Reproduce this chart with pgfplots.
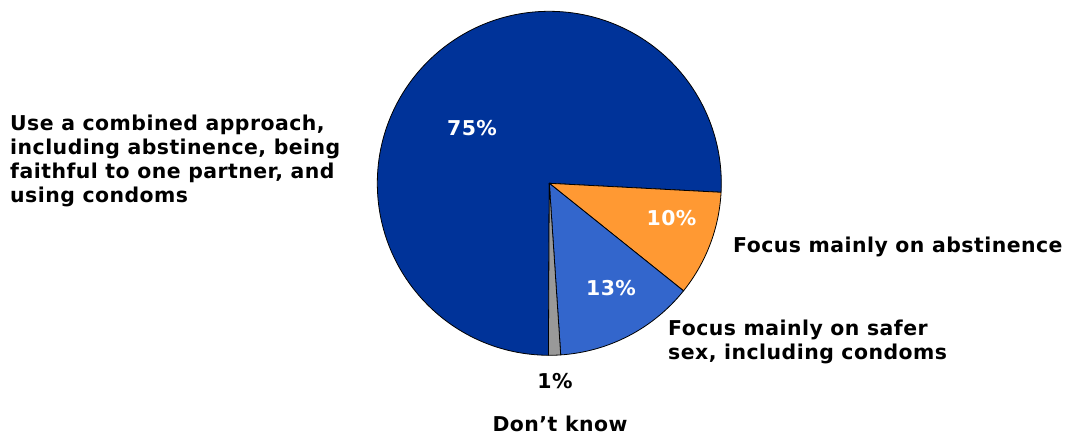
\documentclass[border=0pt]{standalone}
\usepackage{pgfplots}
\pgfplotsset{compat=1.18}
\usepackage{fontspec}
\setmainfont{DejaVu Sans}[BoldFont={DejaVu Sans Bold}, LetterSpace=2.3]
\definecolor{darkblue}{HTML}{003399}
\definecolor{lightblue}{HTML}{3366CC}
\definecolor{orangeS}{HTML}{FF9933}
\definecolor{grayS}{HTML}{999999}
\begin{document}
\begin{tikzpicture}
\begin{axis}[
  width=1071bp, height=437bp, scale only axis,
  xmin=0, xmax=1071, ymin=0, ymax=437,
  hide axis, clip=false,
]
\path (axis cs:0,0) rectangle (axis cs:1071,437);
% slices (angles in degrees, clockwise from -3.0):
% 10% orange, 13% light blue, 1% grey, 75% dark blue
\filldraw[fill=darkblue, draw=black, line width=0.8pt, line join=round]
  (axis cs:549.3,253.7) -- ++(-90.3:172bp) arc[start angle=-90.3, end angle=-363.0, radius=172bp] -- cycle;
\filldraw[fill=orangeS, draw=black, line width=0.8pt, line join=round]
  (axis cs:549.3,253.7) -- ++(-3.0:172bp) arc[start angle=-3.0, end angle=-38.7, radius=172bp] -- cycle;
\filldraw[fill=lightblue, draw=black, line width=0.8pt, line join=round]
  (axis cs:549.3,253.7) -- ++(-38.7:172bp) arc[start angle=-38.7, end angle=-86.2, radius=172bp] -- cycle;
\filldraw[fill=grayS, draw=black, line width=0.8pt, line join=round]
  (axis cs:549.3,253.7) -- ++(-86.2:172bp) arc[start angle=-86.2, end angle=-90.3, radius=172bp] -- cycle;
\begin{scope}[font=\fontsize{20.5}{24}\selectfont\bfseries, inner sep=0pt]
\node[white] at (axis cs:472,309) {75\%};
\node[white] at (axis cs:671.5,218.5) {10\%};
\node[white] at (axis cs:611,149) {13\%};
\node[black, anchor=base] at (axis cs:555,48) {1\%};
\node[black, anchor=base] at (axis cs:560,6) {Don’t know};
\node[black, anchor=base west] at (axis cs:733,184.7) {Focus mainly on abstinence};
\node[black, anchor=base west] at (axis cs:668,101) {Focus mainly on safer};
\node[black, anchor=base west] at (axis cs:668,77) {sex, including condoms};
\node[black, anchor=base west] at (axis cs:10,306) {Use a combined approach,};
\node[black, anchor=base west] at (axis cs:10,282) {including abstinence, being};
\node[black, anchor=base west] at (axis cs:10,258) {faithful to one partner, and};
\node[black, anchor=base west] at (axis cs:10,234.5) {using condoms};
\end{scope}
\end{axis}
\end{tikzpicture}
\end{document}
